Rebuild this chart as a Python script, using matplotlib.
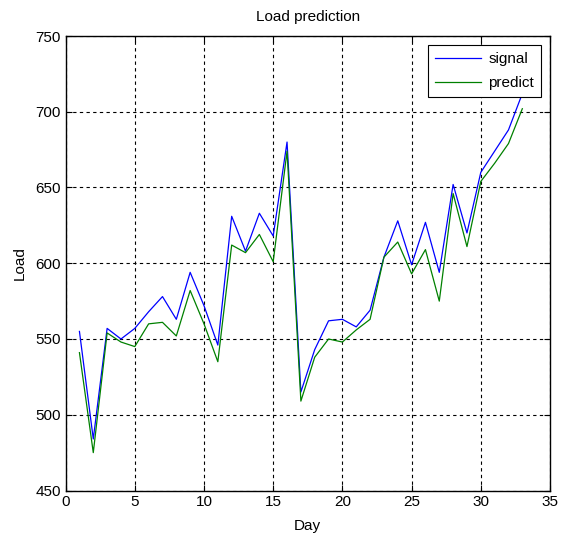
import matplotlib
matplotlib.use("Agg")
import matplotlib.pyplot as plt
from matplotlib import font_manager

names = {f.name for f in font_manager.fontManager.ttflist}
fam = ["Liberation Sans Narrow"] if "Liberation Sans Narrow" in names else ["Liberation Sans"]
plt.rcParams["font.family"] = fam + ["DejaVu Sans"]

days = list(range(1, 34))
signal = [555, 484, 557, 550, 557, 568, 578, 563, 594, 572, 546, 631, 608, 633, 618,
          680, 515, 543, 562, 563, 558, 569, 604, 628, 599, 627, 594, 652, 620, 660,
          674, 688, 712]
predict = [541, 475, 554, 548, 545, 560, 561, 552, 582, 560, 535, 612, 607, 619, 601,
           674, 509, 538, 550, 548, 556, 563, 604, 614, 593, 609, 575, 646, 611, 654,
           666, 679, 702]

fig = plt.figure(figsize=(5.63, 5.38), dpi=100)
ax = fig.add_axes([65.6 / 563, 1 - 490.5 / 538, (550 - 65.6) / 563, (490.5 - 36) / 538])

ax.plot(days, signal, color="#0000ff", lw=0.9, label="signal")
ax.plot(days, predict, color="#008000", lw=0.9, label="predict")

ax.set_xlim(0, 35)
ax.set_ylim(450, 750)
ax.set_xticks(range(0, 36, 5))
ax.set_yticks(range(450, 751, 50))
ax.grid(True, color="black", linestyle=(0, (3, 3)), linewidth=0.8)
ax.tick_params(direction="in", length=4, labelsize=11, colors="black",
               top=True, right=True)
for s in ax.spines.values():
    s.set_linewidth(1.0)

ax.set_title("Load prediction", fontsize=11, pad=11)
ax.set_xlabel("Day", fontsize=11, labelpad=7)
ax.set_ylabel("Load", fontsize=11, labelpad=6)

leg = ax.legend(loc="upper right", fontsize=11, fancybox=False, framealpha=1,
                edgecolor="black", handlelength=3.0, borderaxespad=0.6,
                labelspacing=0.65, handletextpad=0.5, borderpad=0.45)
leg.get_frame().set_linewidth(0.8)

fig.savefig("out.png", dpi=100)
